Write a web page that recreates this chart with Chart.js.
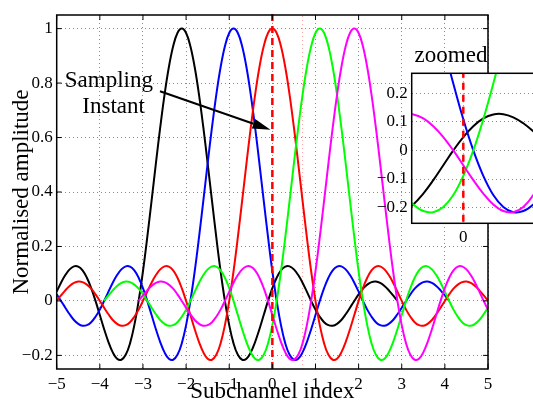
<!DOCTYPE html>
<html>
<head>
<meta charset="utf-8">
<script src="https://cdn.jsdelivr.net/npm/chart.js@4.4.1/dist/chart.umd.min.js"></script>
<style>
  html, body { margin: 0; padding: 0; background: #fff; overflow: hidden; }
  #wrap { position: relative; width: 533px; height: 401px; overflow: hidden; }
  #main { position: absolute; left: 0; top: 0; }
  #inset { position: absolute; left: 370px; top: 35px; }
</style>
</head>
<body>
<div id="wrap">
  <canvas id="main" width="533" height="401"></canvas>
  <canvas id="inset" width="200" height="260"></canvas>
</div>
<script>
// subchannel index (x) where the curves were read
const subIdx = [
  -5,-4.9,-4.8,-4.7,-4.6,-4.5,-4.4,-4.3,-4.2,-4.1,
  -4,-3.9,-3.8,-3.7,-3.6,-3.5,-3.4,-3.3,-3.2,-3.1,
  -3,-2.9,-2.8,-2.7,-2.6,-2.5,-2.4,-2.3,-2.2,-2.1,
  -2,-1.9,-1.8,-1.7,-1.6,-1.5,-1.4,-1.3,-1.2,-1.1,
  -1,-0.9,-0.8,-0.7,-0.6,-0.5,-0.4,-0.3,-0.2,-0.1,
  0,0.1,0.2,0.3,0.4,0.5,0.6,0.7,0.8,0.9,
  1,1.1,1.2,1.3,1.4,1.5,1.6,1.7,1.8,1.9,
  2,2.1,2.2,2.3,2.4,2.5,2.6,2.7,2.8,2.9,
  3,3.1,3.2,3.3,3.4,3.5,3.6,3.7,3.8,3.9,
  4,4.1,4.2,4.3,4.4,4.5,4.6,4.7,4.8,4.9,
  5
];

// normalised amplitude of each subchannel
const blackAmp = [
  0.034,0.067,0.095,0.116,0.127,0.126,0.112,0.085,0.047,0,
  -0.052,-0.104,-0.151,-0.189,-0.212,-0.216,-0.198,-0.156,-0.089,0,
  0.109,0.234,0.368,0.505,0.637,0.757,0.858,0.935,0.984,1,
  0.984,0.935,0.858,0.757,0.637,0.505,0.368,0.234,0.109,0,
  -0.089,-0.156,-0.198,-0.216,-0.212,-0.189,-0.151,-0.104,-0.052,0,
  0.047,0.085,0.112,0.126,0.127,0.116,0.095,0.067,0.034,0,
  -0.032,-0.058,-0.078,-0.089,-0.091,-0.084,-0.070,-0.049,-0.025,0,
  0.024,0.045,0.060,0.069,0.071,0.066,0.055,0.039,0.020,0,
  null,null,null,null,null,null,null,null,null,null,
  null,null,null,null,null,null,null,null,null,null,
  null
];
const blueAmp = [
  0.024,0,-0.025,-0.049,-0.070,-0.084,-0.091,-0.089,-0.078,-0.058,
  -0.032,0,0.034,0.067,0.095,0.116,0.127,0.126,0.112,0.085,
  0.047,0,-0.052,-0.104,-0.151,-0.189,-0.212,-0.216,-0.198,-0.156,
  -0.089,0,0.109,0.234,0.368,0.505,0.637,0.757,0.858,0.935,
  0.984,1,0.984,0.935,0.858,0.757,0.637,0.505,0.368,0.234,
  0.109,0,-0.089,-0.156,-0.198,-0.216,-0.212,-0.189,-0.151,-0.104,
  -0.052,0,0.047,0.085,0.112,0.126,0.127,0.116,0.095,0.067,
  0.034,0,-0.032,-0.058,-0.078,-0.089,-0.091,-0.084,-0.070,-0.049,
  -0.025,0,0.024,0.045,0.060,0.069,0.071,0.066,0.055,0.039,
  0.020,0,null,null,null,null,null,null,null,null,
  null
];
const redAmp = [
  0,0.020,0.039,0.055,0.066,0.071,0.069,0.060,0.045,0.024,
  0,-0.025,-0.049,-0.070,-0.084,-0.091,-0.089,-0.078,-0.058,-0.032,
  0,0.034,0.067,0.095,0.116,0.127,0.126,0.112,0.085,0.047,
  0,-0.052,-0.104,-0.151,-0.189,-0.212,-0.216,-0.198,-0.156,-0.089,
  0,0.109,0.234,0.368,0.505,0.637,0.757,0.858,0.935,0.984,
  1,0.984,0.935,0.858,0.757,0.637,0.505,0.368,0.234,0.109,
  0,-0.089,-0.156,-0.198,-0.216,-0.212,-0.189,-0.151,-0.104,-0.052,
  0,0.047,0.085,0.112,0.126,0.127,0.116,0.095,0.067,0.034,
  0,-0.032,-0.058,-0.078,-0.089,-0.091,-0.084,-0.070,-0.049,-0.025,
  0,0.024,0.045,0.060,0.069,0.071,0.066,0.055,0.039,0.020,
  0
];
const greenAmp = [
  null,null,null,null,null,null,null,null,null,null,
  null,0,0.020,0.039,0.055,0.066,0.071,0.069,0.060,0.045,
  0.024,0,-0.025,-0.049,-0.070,-0.084,-0.091,-0.089,-0.078,-0.058,
  -0.032,0,0.034,0.067,0.095,0.116,0.127,0.126,0.112,0.085,
  0.047,0,-0.052,-0.104,-0.151,-0.189,-0.212,-0.216,-0.198,-0.156,
  -0.089,0,0.109,0.234,0.368,0.505,0.637,0.757,0.858,0.935,
  0.984,1,0.984,0.935,0.858,0.757,0.637,0.505,0.368,0.234,
  0.109,0,-0.089,-0.156,-0.198,-0.216,-0.212,-0.189,-0.151,-0.104,
  -0.052,0,0.047,0.085,0.112,0.126,0.127,0.116,0.095,0.067,
  0.034,0,-0.032,-0.058,-0.078,-0.089,-0.091,-0.084,-0.070,-0.049,
  -0.025
];
const magentaAmp = [
  null,null,null,null,null,null,null,null,null,null,
  null,null,null,null,null,null,null,null,null,0,
  0.020,0.039,0.055,0.066,0.071,0.069,0.060,0.045,0.024,0,
  -0.025,-0.049,-0.070,-0.084,-0.091,-0.089,-0.078,-0.058,-0.032,0,
  0.034,0.067,0.095,0.116,0.127,0.126,0.112,0.085,0.047,0,
  -0.052,-0.104,-0.151,-0.189,-0.212,-0.216,-0.198,-0.156,-0.089,0,
  0.109,0.234,0.368,0.505,0.637,0.757,0.858,0.935,0.984,1,
  0.984,0.935,0.858,0.757,0.637,0.505,0.368,0.234,0.109,0,
  -0.089,-0.156,-0.198,-0.216,-0.212,-0.189,-0.151,-0.104,-0.052,0,
  0.047,0.085,0.112,0.126,0.127,0.116,0.095,0.067,0.034,0,
  -0.032
];

// sampling instant marker and the faint guide
const samplingX = [0, 0];
const samplingY = [-0.25, 1.06];
const guideX = [0.7, 0.7];
const guideY = [-0.25, 1.05];

// ticks
const xTicks = [-5, -4, -3, -2, -1, 0, 1, 2, 3, 4, 5];
const yTicks = [-0.2, 0, 0.2, 0.4, 0.6, 0.8, 1];
const insetXTicks = [0];
const insetYTicks = [-0.2, -0.1, 0, 0.1, 0.2];

// annotation
const noteLines = ['Sampling', 'Instant'];
const noteAt = [[-3.79, 0.787], [-3.68, 0.691]];
const arrowFrom = [-2.605, 0.77];
const arrowTo = [-0.043, 0.629];

const serif = '"Liberation Serif", "Times New Roman", serif';
const tickFont = { family: serif, size: 17 };
const gridColor = 'rgba(0,0,0,0.45)';
const fmt = v => (v < 0 ? '\u2212' + Math.abs(v) : String(v));

function points(xs, ys) {
  return xs.map((x, i) => ({ x: x, y: ys[i] }));
}

function curveSets() {
  const line = (ys, color) => ({
    data: points(subIdx, ys), borderColor: color, borderWidth: 2,
    pointRadius: 0, tension: 0.4, fill: false
  });
  return [
    line(magentaAmp, '#ff00ff'),
    line(greenAmp, '#00ff00'),
    line(redAmp, '#ff0000'),
    line(blueAmp, '#0000ff'),
    line(blackAmp, '#000000')
  ];
}

function samplingSet(clip) {
  return {
    data: points(samplingX, samplingY), borderColor: '#ff0000', borderWidth: 2.5,
    borderDash: [7, 5], pointRadius: 0, tension: 0, clip: clip
  };
}

const setTicks = list => scale => { scale.ticks = list.map(v => ({ value: v })); };

const mainDecor = {
  id: 'mainDecor',
  afterDatasetsDraw(chart) {
    const { ctx, chartArea: a, scales: { x, y } } = chart;
    ctx.save();
    ctx.strokeStyle = '#000';
    ctx.lineWidth = 1;
    ctx.beginPath();
    xTicks.forEach(v => {
      const px = x.getPixelForValue(v);
      ctx.moveTo(px, a.bottom); ctx.lineTo(px, a.bottom - 5);
      ctx.moveTo(px, a.top); ctx.lineTo(px, a.top + 5);
    });
    yTicks.forEach(v => {
      const py = y.getPixelForValue(v);
      ctx.moveTo(a.left, py); ctx.lineTo(a.left + 5, py);
      ctx.moveTo(a.right, py); ctx.lineTo(a.right - 5, py);
    });
    ctx.stroke();
    ctx.lineWidth = 1.5;
    ctx.strokeRect(a.left, a.top, a.width, a.height);

    // Sampling Instant note + arrow
    ctx.fillStyle = '#000';
    ctx.font = '23px ' + serif;
    ctx.textAlign = 'center';
    ctx.textBaseline = 'alphabetic';
    noteLines.forEach((t, i) => {
      ctx.fillText(t, x.getPixelForValue(noteAt[i][0]), y.getPixelForValue(noteAt[i][1]));
    });
    const x0 = x.getPixelForValue(arrowFrom[0]), y0 = y.getPixelForValue(arrowFrom[1]);
    const x1 = x.getPixelForValue(arrowTo[0]), y1 = y.getPixelForValue(arrowTo[1]);
    const ang = Math.atan2(y1 - y0, x1 - x0);
    const head = 18, half = 5;
    const bx = x1 - head * Math.cos(ang), by = y1 - head * Math.sin(ang);
    ctx.lineWidth = 2;
    ctx.beginPath();
    ctx.moveTo(x0, y0);
    ctx.lineTo(bx, by);
    ctx.stroke();
    ctx.beginPath();
    ctx.moveTo(x1, y1);
    ctx.lineTo(bx + half * Math.sin(ang), by - half * Math.cos(ang));
    ctx.lineTo(bx - half * Math.sin(ang), by + half * Math.cos(ang));
    ctx.closePath();
    ctx.fill();
    ctx.restore();
  }
};

new Chart(document.getElementById('main'), {
  type: 'line',
  data: {
    datasets: [
      samplingSet(false),
      ...curveSets(),
      {
        data: points(guideX, guideY), borderColor: 'rgba(255,60,60,0.45)', borderWidth: 1,
        borderDash: [1, 3], pointRadius: 0, tension: 0
      }
    ]
  },
  options: {
    responsive: false,
    animation: false,
    events: [],
    layout: { padding: { top: 15, right: 45, left: 0, bottom: 0 } },
    plugins: { legend: { display: false }, tooltip: { enabled: false } },
    scales: {
      x: {
        type: 'linear', min: -5, max: 5,
        afterBuildTicks: setTicks(xTicks),
        afterFit: s => { s.height = 32; },
        grid: { color: gridColor, lineWidth: 1, drawTicks: false },
        border: { display: false, dash: [1, 3] },
        ticks: { color: '#000', font: tickFont, padding: 5, maxRotation: 0, autoSkip: false, callback: fmt },
        title: {
          display: true, text: 'Subchannel index', color: '#000',
          font: { family: serif, size: 23, lineHeight: 1 }, padding: { top: 0, bottom: -2 }
        }
      },
      y: {
        type: 'linear', min: -0.25, max: 1.05,
        afterBuildTicks: setTicks(yTicks),
        afterFit: s => { s.width = 56.7; },
        grid: { color: gridColor, lineWidth: 1, drawTicks: false },
        border: { display: false, dash: [1, 3] },
        ticks: { color: '#000', font: tickFont, padding: 4, autoSkip: false, callback: fmt },
        title: {
          display: true, text: 'Normalised amplitude', color: '#000',
          font: { family: serif, size: 23, lineHeight: 1 }, padding: { top: 10.5, bottom: 0 }
        }
      }
    }
  },
  plugins: [mainDecor]
});

// zoomed inset around the sampling instant
const insetDecor = {
  id: 'insetDecor',
  beforeDraw(chart) {
    const { ctx, chartArea: a } = chart;
    ctx.save();
    ctx.fillStyle = '#fff';
    ctx.fillRect(a.left, a.top, a.width, a.height);
    ctx.restore();
  },
  afterDatasetsDraw(chart) {
    const { ctx, chartArea: a, scales: { x } } = chart;
    ctx.save();
    ctx.strokeStyle = '#000';
    ctx.lineWidth = 1.5;
    ctx.strokeRect(a.left, a.top, a.width, a.height);
    ctx.fillStyle = '#000';
    ctx.font = '23px ' + serif;
    ctx.textAlign = 'center';
    ctx.textBaseline = 'alphabetic';
    ctx.fillText('zoomed', x.getPixelForValue(-0.123), a.top - 11);
    ctx.restore();
  }
};

new Chart(document.getElementById('inset'), {
  type: 'line',
  data: { datasets: [samplingSet(undefined), ...curveSets()] },
  options: {
    responsive: false,
    animation: false,
    events: [],
    layout: { padding: { top: 38.3, right: 6.7, left: 0, bottom: 0 } },
    plugins: { legend: { display: false }, tooltip: { enabled: false } },
    scales: {
      x: {
        type: 'linear', min: -0.516, max: 1.0,
        afterBuildTicks: setTicks(insetXTicks),
        afterFit: s => { s.height = 71.7; },
        grid: { color: gridColor, lineWidth: 1, drawTicks: false },
        border: { display: false, dash: [1, 3] },
        ticks: { color: '#000', font: tickFont, padding: 4, maxRotation: 0, autoSkip: false, callback: fmt }
      },
      y: {
        type: 'linear', min: -0.255, max: 0.27,
        afterBuildTicks: setTicks(insetYTicks),
        afterFit: s => { s.width = 41.7; },
        grid: { color: gridColor, lineWidth: 1, drawTicks: false },
        border: { display: false, dash: [1, 3] },
        ticks: { color: '#000', font: tickFont, padding: 4, autoSkip: false, callback: fmt }
      }
    }
  },
  plugins: [insetDecor]
});
</script>
</body>
</html>
